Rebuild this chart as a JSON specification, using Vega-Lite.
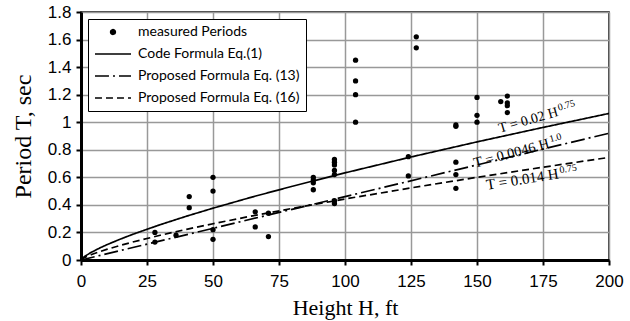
{
  "$schema": "https://vega.github.io/schema/vega-lite/v6.json",
  "width": 528,
  "height": 248,
  "autosize": {"type": "none"},
  "padding": {"left": 81, "top": 12, "right": 21, "bottom": 61},
  "background": "white",
  "datasets": {
    "curves": [
      {"series": "Code Formula Eq.(1)", "H": 0, "T": 0},
      {"series": "Code Formula Eq.(1)", "H": 1, "T": 0.02},
      {"series": "Code Formula Eq.(1)", "H": 2, "T": 0.0336},
      {"series": "Code Formula Eq.(1)", "H": 4, "T": 0.0566},
      {"series": "Code Formula Eq.(1)", "H": 7, "T": 0.0861},
      {"series": "Code Formula Eq.(1)", "H": 10, "T": 0.1125},
      {"series": "Code Formula Eq.(1)", "H": 15, "T": 0.1524},
      {"series": "Code Formula Eq.(1)", "H": 20, "T": 0.1891},
      {"series": "Code Formula Eq.(1)", "H": 30, "T": 0.2564},
      {"series": "Code Formula Eq.(1)", "H": 40, "T": 0.3181},
      {"series": "Code Formula Eq.(1)", "H": 50, "T": 0.3761},
      {"series": "Code Formula Eq.(1)", "H": 65, "T": 0.4581},
      {"series": "Code Formula Eq.(1)", "H": 80, "T": 0.535},
      {"series": "Code Formula Eq.(1)", "H": 100, "T": 0.6325},
      {"series": "Code Formula Eq.(1)", "H": 125, "T": 0.7477},
      {"series": "Code Formula Eq.(1)", "H": 150, "T": 0.8573},
      {"series": "Code Formula Eq.(1)", "H": 175, "T": 0.9622},
      {"series": "Code Formula Eq.(1)", "H": 200, "T": 1.0637},
      {"series": "Proposed Formula Eq. (13)", "H": 0, "T": 0},
      {"series": "Proposed Formula Eq. (13)", "H": 50, "T": 0.23},
      {"series": "Proposed Formula Eq. (13)", "H": 100, "T": 0.46},
      {"series": "Proposed Formula Eq. (13)", "H": 150, "T": 0.69},
      {"series": "Proposed Formula Eq. (13)", "H": 200, "T": 0.92},
      {"series": "Proposed Formula Eq. (16)", "H": 0, "T": 0},
      {"series": "Proposed Formula Eq. (16)", "H": 1, "T": 0.014},
      {"series": "Proposed Formula Eq. (16)", "H": 2, "T": 0.0235},
      {"series": "Proposed Formula Eq. (16)", "H": 4, "T": 0.0396},
      {"series": "Proposed Formula Eq. (16)", "H": 7, "T": 0.0603},
      {"series": "Proposed Formula Eq. (16)", "H": 10, "T": 0.0787},
      {"series": "Proposed Formula Eq. (16)", "H": 15, "T": 0.1067},
      {"series": "Proposed Formula Eq. (16)", "H": 20, "T": 0.1324},
      {"series": "Proposed Formula Eq. (16)", "H": 30, "T": 0.1795},
      {"series": "Proposed Formula Eq. (16)", "H": 40, "T": 0.2227},
      {"series": "Proposed Formula Eq. (16)", "H": 50, "T": 0.2632},
      {"series": "Proposed Formula Eq. (16)", "H": 65, "T": 0.3207},
      {"series": "Proposed Formula Eq. (16)", "H": 80, "T": 0.3745},
      {"series": "Proposed Formula Eq. (16)", "H": 100, "T": 0.4427},
      {"series": "Proposed Formula Eq. (16)", "H": 125, "T": 0.5234},
      {"series": "Proposed Formula Eq. (16)", "H": 150, "T": 0.6001},
      {"series": "Proposed Formula Eq. (16)", "H": 175, "T": 0.6735},
      {"series": "Proposed Formula Eq. (16)", "H": 200, "T": 0.7446}
    ],
    "measured": [
      {"H": 28, "T": 0.2}, {"H": 28, "T": 0.13}, {"H": 36, "T": 0.18},
      {"H": 41, "T": 0.46}, {"H": 41, "T": 0.38},
      {"H": 50, "T": 0.6}, {"H": 50, "T": 0.5}, {"H": 50, "T": 0.22}, {"H": 50, "T": 0.15},
      {"H": 66, "T": 0.35}, {"H": 66, "T": 0.24}, {"H": 71, "T": 0.34}, {"H": 71, "T": 0.17},
      {"H": 88, "T": 0.6}, {"H": 88, "T": 0.58}, {"H": 88, "T": 0.56}, {"H": 88, "T": 0.51},
      {"H": 96, "T": 0.73}, {"H": 96, "T": 0.71}, {"H": 96, "T": 0.69}, {"H": 96, "T": 0.65}, {"H": 96, "T": 0.62},
      {"H": 96, "T": 0.43}, {"H": 96, "T": 0.41},
      {"H": 104, "T": 1.45}, {"H": 104, "T": 1.3}, {"H": 104, "T": 1.2}, {"H": 104, "T": 1.0},
      {"H": 124, "T": 0.75}, {"H": 124, "T": 0.61},
      {"H": 127, "T": 1.62}, {"H": 127, "T": 1.54},
      {"H": 142, "T": 0.98}, {"H": 142, "T": 0.97}, {"H": 142, "T": 0.71}, {"H": 142, "T": 0.62}, {"H": 142, "T": 0.52},
      {"H": 150, "T": 1.18}, {"H": 150, "T": 1.05}, {"H": 150, "T": 1.0},
      {"H": 159, "T": 1.15}, {"H": 161.5, "T": 1.19}, {"H": 161.5, "T": 1.14}, {"H": 161.5, "T": 1.12}, {"H": 161.5, "T": 1.07}
    ],
    "darkGrid": [{"T": 0.4}, {"T": 0.8}, {"T": 1.2}, {"T": 1.6}]
  },
  "encoding": {
    "x": {
      "field": "H", "type": "quantitative",
      "scale": {"domain": [0, 200], "nice": false, "zero": false},
      "axis": {
        "values": [0, 25, 50, 75, 100, 125, 150, 175, 200],
        "title": "Height  H, ft",
        "grid": true, "gridColor": "#999999", "gridWidth": 1.5,
        "labelFlush": false, "labelOverlap": false,
        "labelPadding": 8, "titlePadding": 8, "titleFontSize": 22
      }
    },
    "y": {
      "field": "T", "type": "quantitative",
      "scale": {"domain": [0, 1.8], "nice": false, "zero": false},
      "axis": {
        "values": [0, 0.2, 0.4, 0.6, 0.8, 1, 1.2, 1.4, 1.6, 1.8],
        "format": ".1~f",
        "title": "Period T, sec",
        "grid": true, "gridWidth": 1.3, "gridColor": "#999999",
        "labelPadding": 5, "titlePadding": 12, "labelOverlap": false, "titleFontSize": 24
      }
    }
  },
  "layer": [
    {
      "data": {"name": "darkGrid"},
      "mark": {"type": "rule", "color": "#111111", "strokeWidth": 1.3},
      "encoding": {"x": {"datum": 0, "type": "quantitative"}, "x2": {"datum": 200}}
    },
    {
      "data": {"name": "curves"},
      "mark": {"type": "line", "color": "black", "strokeWidth": 1.7, "clip": true},
      "encoding": {
        "strokeDash": {
          "field": "series", "type": "nominal",
          "scale": {
            "domain": ["measured Periods", "Code Formula Eq.(1)", "Proposed Formula Eq. (13)", "Proposed Formula Eq. (16)"],
            "range": [[1, 0], [1, 0], [14, 4, 2, 4], [7, 4]]
          },
          "legend": {
            "title": null,
            "orient": "top-left",
            "offset": 7,
            "encode": {
              "symbols": {
                "update": {
                  "shape": {"signal": "datum.value === 'measured Periods' ? 'circle' : 'stroke'"},
                  "size": {"signal": "datum.value === 'measured Periods' ? 22 : 1300"},
                  "fill": {"signal": "datum.value === 'measured Periods' ? 'black' : 'transparent'"},
                  "stroke": {"value": "black"}
                }
              }
            }
          }
        }
      }
    },
    {
      "data": {"name": "measured"},
      "mark": {"type": "circle", "color": "black", "size": 28, "opacity": 1}
    },
    {
      "data": {"values": [{"H": 158.7, "T": 0.924, "label": "T = 0.02 H"}]},
      "mark": {"type": "text", "angle": -16, "align": "left", "baseline": "alphabetic", "font": "Liberation Serif", "fontSize": 14, "color": "black"},
      "encoding": {"text": {"field": "label"}}
    },
    {
      "data": {"values": [{"H": 181, "T": 1.084, "label": "0.75"}]},
      "mark": {"type": "text", "angle": -16, "align": "left", "baseline": "alphabetic", "font": "Liberation Serif", "fontSize": 10, "color": "black"},
      "encoding": {"text": {"field": "label"}}
    },
    {
      "data": {"values": [{"H": 149.2, "T": 0.669, "label": "T = 0.0046 H"}]},
      "mark": {"type": "text", "angle": -15, "align": "left", "baseline": "alphabetic", "font": "Liberation Serif", "fontSize": 14.5, "color": "black"},
      "encoding": {"text": {"field": "label"}}
    },
    {
      "data": {"values": [{"H": 177.7, "T": 0.854, "label": "1.0"}]},
      "mark": {"type": "text", "angle": -15, "align": "left", "baseline": "alphabetic", "font": "Liberation Serif", "fontSize": 10, "color": "black"},
      "encoding": {"text": {"field": "label"}}
    },
    {
      "data": {"values": [{"H": 153.8, "T": 0.509, "label": "T = 0.014 H"}]},
      "mark": {"type": "text", "angle": -9, "align": "left", "baseline": "alphabetic", "font": "Liberation Serif", "fontSize": 15, "color": "black"},
      "encoding": {"text": {"field": "label"}}
    },
    {
      "data": {"values": [{"H": 181.4, "T": 0.63, "label": "0.75"}]},
      "mark": {"type": "text", "angle": -9, "align": "left", "baseline": "alphabetic", "font": "Liberation Serif", "fontSize": 10, "color": "black"},
      "encoding": {"text": {"field": "label"}}
    }
  ],
  "config": {
    "view": {"stroke": "black", "strokeWidth": 1.5},
    "axis": {
      "domainColor": "black", "domainWidth": 3,
      "tickColor": "black", "tickSize": 5, "tickWidth": 2,
      "labelFont": "Liberation Sans", "labelFontSize": 17, "labelColor": "black",
      "titleFont": "Liberation Serif", "titleFontWeight": "normal", "titleColor": "black"
    },
    "legend": {
      "strokeColor": "black",
      "fillColor": "white",
      "padding": 6,
      "labelFont": "Lato",
      "labelFontSize": 14,
      "labelColor": "black",
      "labelOffset": 6,
      "symbolSize": 1300,
      "symbolType": "stroke",
      "symbolStrokeColor": "black",
      "symbolStrokeWidth": 1.6,
      "clipHeight": 14,
      "rowPadding": 8,
      "labelLimit": 300
    }
  }
}
